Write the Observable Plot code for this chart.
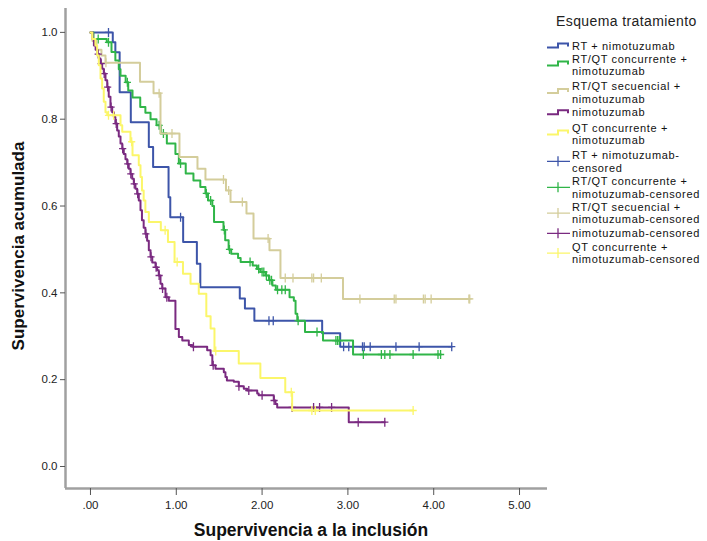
<!DOCTYPE html>
<html><head><meta charset="utf-8">
<script src="https://cdn.jsdelivr.net/npm/d3@7"></script>
<script src="https://cdn.jsdelivr.net/npm/@observablehq/plot@0.6"></script>
<style>
body{margin:0;background:#fff;font-family:"Liberation Sans",Arial,sans-serif;}
#wrap{position:relative;width:707px;height:541px;overflow:hidden;}
#overlay{position:absolute;left:0;top:0;pointer-events:none;}
#chart{position:absolute;left:0;top:0;}
</style></head><body>
<div id="wrap"><div id="chart"></div><svg id="overlay" width="707" height="541"></svg></div>
<script>
// ---- data ----
const groups = ["RT + nimotuzumab", "RT/QT concurrente + nimotuzumab", "RT/QT secuencial + nimotuzumab", "nimotuzumab", "QT concurrente + nimotuzumab"];
const groupColors = ["#3d55a9", "#30b548", "#d4cd9b", "#7a2a80", "#fbf66a"];

const rtTimes = [0, 0.26, 0.29, 0.34, 0.47, 0.68, 0.73, 0.91, 0.93, 1.08, 1.24, 1.28, 1.74, 1.80, 1.91, 2.70, 2.91];
const rtSurv = [1.0, 0.977, 0.954, 0.862, 0.793, 0.736, 0.690, 0.620, 0.574, 0.517, 0.467, 0.413, 0.387, 0.364, 0.336, 0.307, 0.276];
const rtCensored = [0.21, 1.05, 2.08, 2.13, 2.95, 3.01, 3.17, 3.19, 3.26, 3.56, 3.83, 4.21];

const rtqtcTimes = [0, 0.035, 0.19, 0.245, 0.29, 0.33, 0.35, 0.41, 0.44, 0.49, 0.58, 0.64, 0.70, 0.77, 0.82, 0.89, 0.99, 1.03, 1.11, 1.20, 1.28, 1.34, 1.37, 1.42, 1.44, 1.55, 1.57, 1.61, 1.64, 1.72, 1.75, 1.89, 1.94, 1.98, 2.04, 2.08, 2.12, 2.16, 2.32, 2.37, 2.39, 2.41, 2.50, 2.71, 3.06];
const rtqtcSurv = [1.0, 0.985, 0.977, 0.955, 0.935, 0.915, 0.900, 0.885, 0.866, 0.850, 0.828, 0.815, 0.800, 0.786, 0.767, 0.744, 0.720, 0.698, 0.675, 0.659, 0.644, 0.629, 0.613, 0.600, 0.563, 0.545, 0.521, 0.500, 0.490, 0.480, 0.471, 0.463, 0.455, 0.448, 0.440, 0.429, 0.417, 0.407, 0.390, 0.382, 0.352, 0.336, 0.310, 0.290, 0.258];
const rtqtcCensored = [0.09, 0.21, 0.43, 0.80, 0.85, 1.05, 1.35, 1.40, 1.56, 1.62, 1.86, 1.96, 2.00, 2.02, 2.05, 2.09, 2.11, 2.18, 2.23, 2.27, 2.42, 2.64, 2.86, 2.88, 2.90, 3.18, 3.39, 3.43, 3.49, 3.76, 4.05, 4.08];

const rtqtsTimes = [0, 0.023, 0.07, 0.128, 0.175, 0.577, 0.735, 0.816, 1.037, 1.247, 1.34, 1.579, 1.632, 1.818, 1.90, 2.086, 2.214, 2.943];
const rtqtsSurv = [1.0, 0.98, 0.96, 0.947, 0.93, 0.886, 0.86, 0.767, 0.713, 0.686, 0.661, 0.636, 0.609, 0.583, 0.525, 0.498, 0.434, 0.386];
const rtqtsCensored = [0.18, 0.80, 0.95, 1.55, 1.61, 1.77, 2.07, 2.27, 2.36, 2.58, 2.60, 2.69, 3.14, 3.54, 3.56, 3.88, 3.90, 3.97, 4.41, 4.42];

const nimoTimes = [0, 0.023, 0.04, 0.06, 0.08, 0.10, 0.117, 0.136, 0.155, 0.175, 0.195, 0.213, 0.233, 0.253, 0.272, 0.29, 0.311, 0.33, 0.35, 0.37, 0.388, 0.408, 0.428, 0.446, 0.466, 0.486, 0.505, 0.524, 0.544, 0.563, 0.583, 0.60, 0.62, 0.64, 0.66, 0.68, 0.70, 0.72, 0.758, 0.777, 0.796, 0.816, 0.836, 0.874, 0.913, 0.99, 1.03, 1.07, 1.146, 1.185, 1.36, 1.40, 1.42, 1.457, 1.554, 1.573, 1.59, 1.67, 1.728, 1.787, 1.826, 1.943, 1.96, 2.136, 2.156, 2.176, 3.01];
const nimoSurv = [1.0, 0.985, 0.97, 0.96, 0.95, 0.94, 0.928, 0.916, 0.905, 0.89, 0.874, 0.852, 0.828, 0.816, 0.805, 0.79, 0.774, 0.76, 0.744, 0.732, 0.72, 0.708, 0.697, 0.686, 0.674, 0.663, 0.651, 0.64, 0.628, 0.613, 0.59, 0.567, 0.55, 0.536, 0.52, 0.498, 0.483, 0.47, 0.459, 0.452, 0.44, 0.421, 0.41, 0.39, 0.382, 0.317, 0.298, 0.29, 0.28, 0.276, 0.268, 0.256, 0.233, 0.225, 0.217, 0.206, 0.198, 0.195, 0.185, 0.179, 0.175, 0.168, 0.164, 0.152, 0.144, 0.136, 0.102];
const nimoCensored = [0.09, 0.125, 0.16, 0.20, 0.24, 0.30, 0.375, 0.435, 0.47, 0.51, 0.55, 0.645, 0.705, 0.765, 0.80, 0.84, 0.89, 1.20, 1.43, 1.73, 1.845, 2.00, 2.14, 2.35, 2.60, 2.67, 2.81, 3.12, 3.43];

const qtTimes = [0, 0.02, 0.058, 0.078, 0.097, 0.117, 0.136, 0.155, 0.175, 0.195, 0.35, 0.37, 0.466, 0.49, 0.563, 0.583, 0.60, 0.62, 0.64, 0.68, 0.82, 0.903, 0.98, 1.078, 1.166, 1.262, 1.35, 1.40, 1.445, 1.728, 1.98, 2.27, 2.35];
const qtSurv = [1.0, 0.985, 0.97, 0.947, 0.924, 0.894, 0.871, 0.84, 0.816, 0.809, 0.786, 0.771, 0.748, 0.717, 0.694, 0.667, 0.636, 0.613, 0.586, 0.563, 0.544, 0.517, 0.471, 0.444, 0.421, 0.398, 0.346, 0.318, 0.266, 0.237, 0.204, 0.171, 0.129];
const qtCensored = [0.21, 0.27, 0.48, 0.87, 1.01, 1.46, 2.34, 2.58, 2.62, 3.76];

const xTicks = [0, 1, 2, 3, 4, 5];
const yTicks = [0, 0.2, 0.4, 0.6, 0.8, 1.0];
const xTitle = "Supervivencia a la inclusión";
const yTitle = "Supervivencia acumulada";
const legendTitle = "Esquema tratamiento";
const legendLabels = [
  ["RT + nimotuzumab"],
  ["RT/QT concurrente +", "nimotuzumab"],
  ["RT/QT secuencial +", "nimotuzumab"],
  ["nimotuzumab"],
  ["QT concurrente +", "nimotuzumab"],
  ["RT + nimotuzumab-", "censored"],
  ["RT/QT concurrente +", "nimotuzumab-censored"],
  ["RT/QT secuencial +", "nimotuzumab-censored"],
  ["nimotuzumab-censored"],
  ["QT concurrente +", "nimotuzumab-censored"]
];

// ---- build ----
const seriesDefs = [
  [rtTimes, rtSurv, rtCensored],
  [rtqtcTimes, rtqtcSurv, rtqtcCensored],
  [rtqtsTimes, rtqtsSurv, rtqtsCensored],
  [nimoTimes, nimoSurv, nimoCensored],
  [qtTimes, qtSurv, qtCensored]
];
function stepAt(times, surv, t) {
  let v = surv[0];
  for (let i = 0; i < times.length; i++) if (times[i] <= t) v = surv[i];
  return v;
}
const cross = {draw(ctx, size) {
  const r = Math.sqrt(size / Math.PI);
  ctx.moveTo(0, -r); ctx.lineTo(0, r);
  ctx.moveTo(-r * 0.8, 0); ctx.lineTo(r * 0.8, 0);
}};
const marks = [];
marks.push(Plot.ruleY([-0.0507], {stroke: "#a0a0a0", strokeWidth: 2.5}));
marks.push(Plot.ruleX([-0.291], {stroke: "#a0a0a0", strokeWidth: 2.5}));
seriesDefs.forEach(([times, surv, cens], k) => {
  const end = Math.max(times[times.length - 1], d3.max(cens));
  const line = times.map((t, i) => ({t, s: surv[i]}));
  line.push({t: end, s: surv[surv.length - 1]});
  const cd = cens.map(t => ({t, s: stepAt(times, surv, t)}));
  marks.push(Plot.line(line, {x: "t", y: "s", curve: "step-after", stroke: groupColors[k], strokeWidth: 2}));
  marks.push(Plot.dot(cd, {x: "t", y: "s", symbol: cross, r: 4.5, stroke: groupColors[k], strokeWidth: 1.3, fill: "none"}));
});
marks.push(Plot.axisX(xTicks, {tickSize: 7, tickPadding: 5, tickFormat: d => d === 0 ? ".00" : d3.format(".2f")(d), label: null, fontSize: 11.5, stroke: "#555", color: "#222"}));
marks.push(Plot.axisY(yTicks, {tickSize: 5, tickPadding: 3, tickFormat: d3.format(".1f"), label: null, fontSize: 11.5, stroke: "#555", color: "#222"}));

const chart = Plot.plot({
  width: 550, height: 541,
  marginLeft: 65, marginRight: 3, marginTop: 8, marginBottom: 53,
  style: {fontFamily: "Liberation Sans, Arial, sans-serif", background: "white"},
  x: {domain: [-0.291, 5.326]},
  y: {domain: [-0.0507, 1.055]},
  marks
});
document.getElementById("chart").appendChild(chart);

// ---- overlay: axis titles + legend ----
const ov = d3.select("#overlay");
ov.append("text").attr("x", 311).attr("y", 536).attr("text-anchor", "middle")
  .attr("font-size", 17.5).attr("font-weight", "bold").attr("fill", "#111").text(xTitle);
ov.append("text").attr("transform", "translate(24,246) rotate(-90)").attr("text-anchor", "middle")
  .attr("font-size", 17).attr("font-weight", "bold").attr("fill", "#111").text(yTitle);
ov.append("text").attr("x", 556).attr("y", 26).attr("font-size", 14).attr("letter-spacing", 0.4).attr("fill", "#222").text(legendTitle);
const lineYs = [[45.5], [58.5, 71.2], [86, 98.7], [112.3], [127.5, 140.2], [155, 167.7], [181, 193.7], [206.7, 219.4], [233.3], [246.7, 259.4]];
legendLabels.forEach((lines, i) => {
  const ys = lineYs[i];
  const color = groupColors[i % 5];
  lines.forEach((txt, j) => {
    ov.append("text").attr("x", 572).attr("y", ys[j] + 4).attr("font-size", 11).attr("letter-spacing", 0.65).attr("fill", "#111").text(txt);
  });
  const cy = i < 5 ? (ys.length > 1 ? ys[0] + 5 : ys[0]) : (ys.length > 1 ? (ys[0] + ys[1]) / 2 : ys[0]);
  if (i < 5) {
    ov.append("path").attr("d", `M547,${cy + 2}H558V${cy - 2}H568V${cy + 1}`)
      .attr("fill", "none").attr("stroke", color).attr("stroke-width", 2);
  } else {
    ov.append("path").attr("d", `M547,${cy}H570M558,${cy - 5}V${cy + 5}`)
      .attr("fill", "none").attr("stroke", color).attr("stroke-width", 1.3);
  }
});
</script>
</body></html>
